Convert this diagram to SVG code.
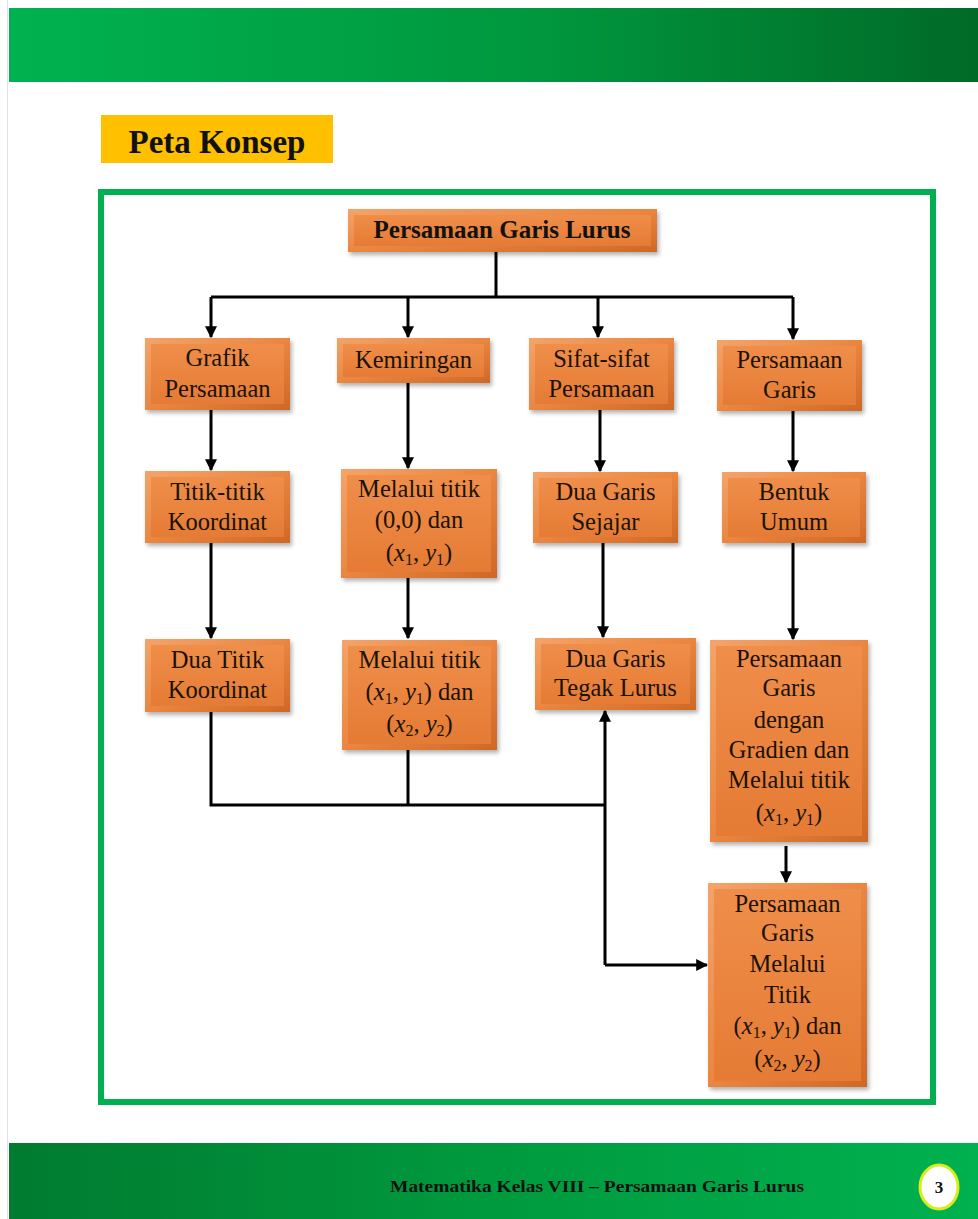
<svg xmlns="http://www.w3.org/2000/svg" width="978" height="1219" viewBox="0 0 978 1219">
<defs>
<linearGradient id="hdr" x1="0" y1="0" x2="1" y2="0"><stop offset="0" stop-color="#00b24f"/><stop offset="0.55" stop-color="#00973e"/><stop offset="1" stop-color="#006a27"/></linearGradient>
<linearGradient id="ftr" x1="0" y1="0" x2="1" y2="0"><stop offset="0" stop-color="#007b30"/><stop offset="0.5" stop-color="#009a3e"/><stop offset="1" stop-color="#00b14f"/></linearGradient>
<linearGradient id="bev" x1="0" y1="0" x2="1" y2="1"><stop offset="0" stop-color="#f4a46a"/><stop offset="0.5" stop-color="#ea8640"/><stop offset="1" stop-color="#cf6826"/></linearGradient>
<linearGradient id="face" x1="0" y1="0" x2="0" y2="1"><stop offset="0" stop-color="#ef8e4a"/><stop offset="1" stop-color="#e57b34"/></linearGradient>
<filter id="sh" x="-10%" y="-10%" width="125%" height="130%"><feDropShadow dx="2" dy="3" stdDeviation="2" flood-color="#000" flood-opacity="0.3"/></filter>
<marker id="ah" viewBox="0 0 10 10" refX="9" refY="5" markerWidth="4" markerHeight="4" orient="auto" markerUnits="strokeWidth"><path d="M0,0 L10,5 L0,10 z" fill="#000"/></marker>
<style>
.bv{fill:url(#bev);filter:url(#sh)}
.fc{fill:url(#face)}
.t{font-family:"Liberation Serif","Times New Roman",serif;font-size:24.5px;fill:#1a1208;text-anchor:middle}
.tb{font-family:"Liberation Serif","Times New Roman",serif;font-weight:bold;fill:#111;text-anchor:middle}
.mi{font-style:italic}
.sb{font-size:16px}
.c{fill:none;stroke:#000;stroke-width:3}
.a{marker-end:url(#ah)}
</style>
</defs>
<rect width="978" height="1219" fill="#fff"/>
<line x1="7.5" y1="0" x2="7.5" y2="1219" stroke="#e2e2e2" stroke-width="1"/>
<g id="header"><rect x="9" y="8" width="969" height="74" fill="url(#hdr)"/></g>
<g id="title"><rect x="101" y="115" width="232" height="48" fill="#ffc000"/><text class="tb" x="217" y="153" font-size="33">Peta Konsep</text></g>
<rect id="frame" x="101" y="192" width="832" height="910" fill="none" stroke="#00b050" stroke-width="6"/>

<g id="connectors">
<path class="c" d="M496,251 V297 M211,297 H793"/>
<path class="c a" d="M211,297 V337"/>
<path class="c a" d="M408,297 V337"/>
<path class="c a" d="M598,297 V337"/>
<path class="c a" d="M793,297 V339"/>
<path class="c a" d="M211,410 V470"/>
<path class="c a" d="M408,383 V468"/>
<path class="c a" d="M600,410 V471"/>
<path class="c a" d="M793,411 V471"/>
<path class="c a" d="M211,543 V638"/>
<path class="c a" d="M408,578 V638"/>
<path class="c a" d="M603,543 V637"/>
<path class="c a" d="M793,543 V639"/>
<path class="c a" d="M786,846 V882"/>
<path class="c" d="M211,712 V805 H605 M408,750 V805"/>
<path class="c a" d="M605,965 V711"/>
<path class="c a" d="M605,965 H707"/>
</g>

<g id="n-root"><rect class="bv" x="348" y="209" width="309" height="43"/><rect class="fc" x="354" y="215" width="297" height="31"/><text class="tb" x="502" y="238" font-size="25">Persamaan Garis Lurus</text></g>

<g id="n-grafik"><rect class="bv" x="145" y="338" width="145" height="72"/><rect class="fc" x="151" y="344" width="133" height="60"/><text class="t" x="217.5" y="366">Grafik</text><text class="t" x="217.5" y="397">Persamaan</text></g>
<g id="n-kemiringan"><rect class="bv" x="337" y="338" width="153" height="45"/><rect class="fc" x="343" y="344" width="141" height="33"/><text class="t" x="413.5" y="368">Kemiringan</text></g>
<g id="n-sifat"><rect class="bv" x="529" y="338" width="145" height="72"/><rect class="fc" x="535" y="344" width="133" height="60"/><text class="t" x="601.5" y="367">Sifat-sifat</text><text class="t" x="601.5" y="397">Persamaan</text></g>
<g id="n-pgaris"><rect class="bv" x="717" y="340" width="145" height="71"/><rect class="fc" x="723" y="346" width="133" height="59"/><text class="t" x="789.5" y="368">Persamaan</text><text class="t" x="789.5" y="398">Garis</text></g>

<g id="n-titik"><rect class="bv" x="145" y="471" width="145" height="72"/><rect class="fc" x="151" y="477" width="133" height="60"/><text class="t" x="217.5" y="500">Titik-titik</text><text class="t" x="217.5" y="530">Koordinat</text></g>
<g id="n-melalui00"><rect class="bv" x="341" y="469" width="156" height="109"/><rect class="fc" x="347" y="475" width="144" height="97"/><text class="t" x="419" y="497">Melalui titik</text><text class="t" x="419" y="528">(0,0) dan</text><text class="t" x="419" y="561">(<tspan class="mi">x</tspan><tspan class="sb" dy="4">1</tspan><tspan dy="-4">, </tspan><tspan class="mi">y</tspan><tspan class="sb" dy="4">1</tspan><tspan dy="-4">)</tspan></text></g>
<g id="n-sejajar"><rect class="bv" x="533" y="472" width="145" height="71"/><rect class="fc" x="539" y="478" width="133" height="59"/><text class="t" x="605.5" y="500">Dua Garis</text><text class="t" x="605.5" y="530">Sejajar</text></g>
<g id="n-bentuk"><rect class="bv" x="722" y="472" width="144" height="71"/><rect class="fc" x="728" y="478" width="132" height="59"/><text class="t" x="794" y="500">Bentuk</text><text class="t" x="794" y="530">Umum</text></g>

<g id="n-duatitik"><rect class="bv" x="145" y="639" width="145" height="73"/><rect class="fc" x="151" y="645" width="133" height="61"/><text class="t" x="217.5" y="668">Dua Titik</text><text class="t" x="217.5" y="698">Koordinat</text></g>
<g id="n-melalui12"><rect class="bv" x="342" y="640" width="155" height="110"/><rect class="fc" x="348" y="646" width="143" height="98"/><text class="t" x="419.5" y="668">Melalui titik</text><text class="t" x="419.5" y="700">(<tspan class="mi">x</tspan><tspan class="sb" dy="4">1</tspan><tspan dy="-4">, </tspan><tspan class="mi">y</tspan><tspan class="sb" dy="4">1</tspan><tspan dy="-4">) dan</tspan></text><text class="t" x="419.5" y="732">(<tspan class="mi">x</tspan><tspan class="sb" dy="4">2</tspan><tspan dy="-4">, </tspan><tspan class="mi">y</tspan><tspan class="sb" dy="4">2</tspan><tspan dy="-4">)</tspan></text></g>
<g id="n-tegak"><rect class="bv" x="535" y="638" width="161" height="72"/><rect class="fc" x="541" y="644" width="149" height="60"/><text class="t" x="615.5" y="667">Dua Garis</text><text class="t" x="615.5" y="696">Tegak Lurus</text></g>
<g id="n-gradien"><rect class="bv" x="710" y="640" width="158" height="202"/><rect class="fc" x="716" y="646" width="146" height="190"/><text class="t" x="789" y="667">Persamaan</text><text class="t" x="789" y="696">Garis</text><text class="t" x="789" y="728">dengan</text><text class="t" x="789" y="758">Gradien dan</text><text class="t" x="789" y="788">Melalui titik</text><text class="t" x="789" y="821">(<tspan class="mi">x</tspan><tspan class="sb" dy="4">1</tspan><tspan dy="-4">, </tspan><tspan class="mi">y</tspan><tspan class="sb" dy="4">1</tspan><tspan dy="-4">)</tspan></text></g>

<g id="n-duatitikpg"><rect class="bv" x="708" y="883" width="159" height="204"/><rect class="fc" x="714" y="889" width="147" height="192"/><text class="t" x="787.5" y="912">Persamaan</text><text class="t" x="787.5" y="941">Garis</text><text class="t" x="787.5" y="972">Melalui</text><text class="t" x="787.5" y="1003">Titik</text><text class="t" x="787.5" y="1034">(<tspan class="mi">x</tspan><tspan class="sb" dy="4">1</tspan><tspan dy="-4">, </tspan><tspan class="mi">y</tspan><tspan class="sb" dy="4">1</tspan><tspan dy="-4">) dan</tspan></text><text class="t" x="787.5" y="1067">(<tspan class="mi">x</tspan><tspan class="sb" dy="4">2</tspan><tspan dy="-4">, </tspan><tspan class="mi">y</tspan><tspan class="sb" dy="4">2</tspan><tspan dy="-4">)</tspan></text></g>

<g id="footer"><rect x="9" y="1143" width="969" height="76" fill="url(#ftr)"/><text class="tb" x="597" y="1192" font-size="17" textLength="414" lengthAdjust="spacingAndGlyphs">Matematika Kelas VIII – Persamaan Garis Lurus</text><ellipse cx="939" cy="1187" rx="19" ry="22" fill="#fff" stroke="#d8ec1a" stroke-width="3"/><text class="tb" x="939" y="1193" font-size="17">3</text></g>
</svg>
